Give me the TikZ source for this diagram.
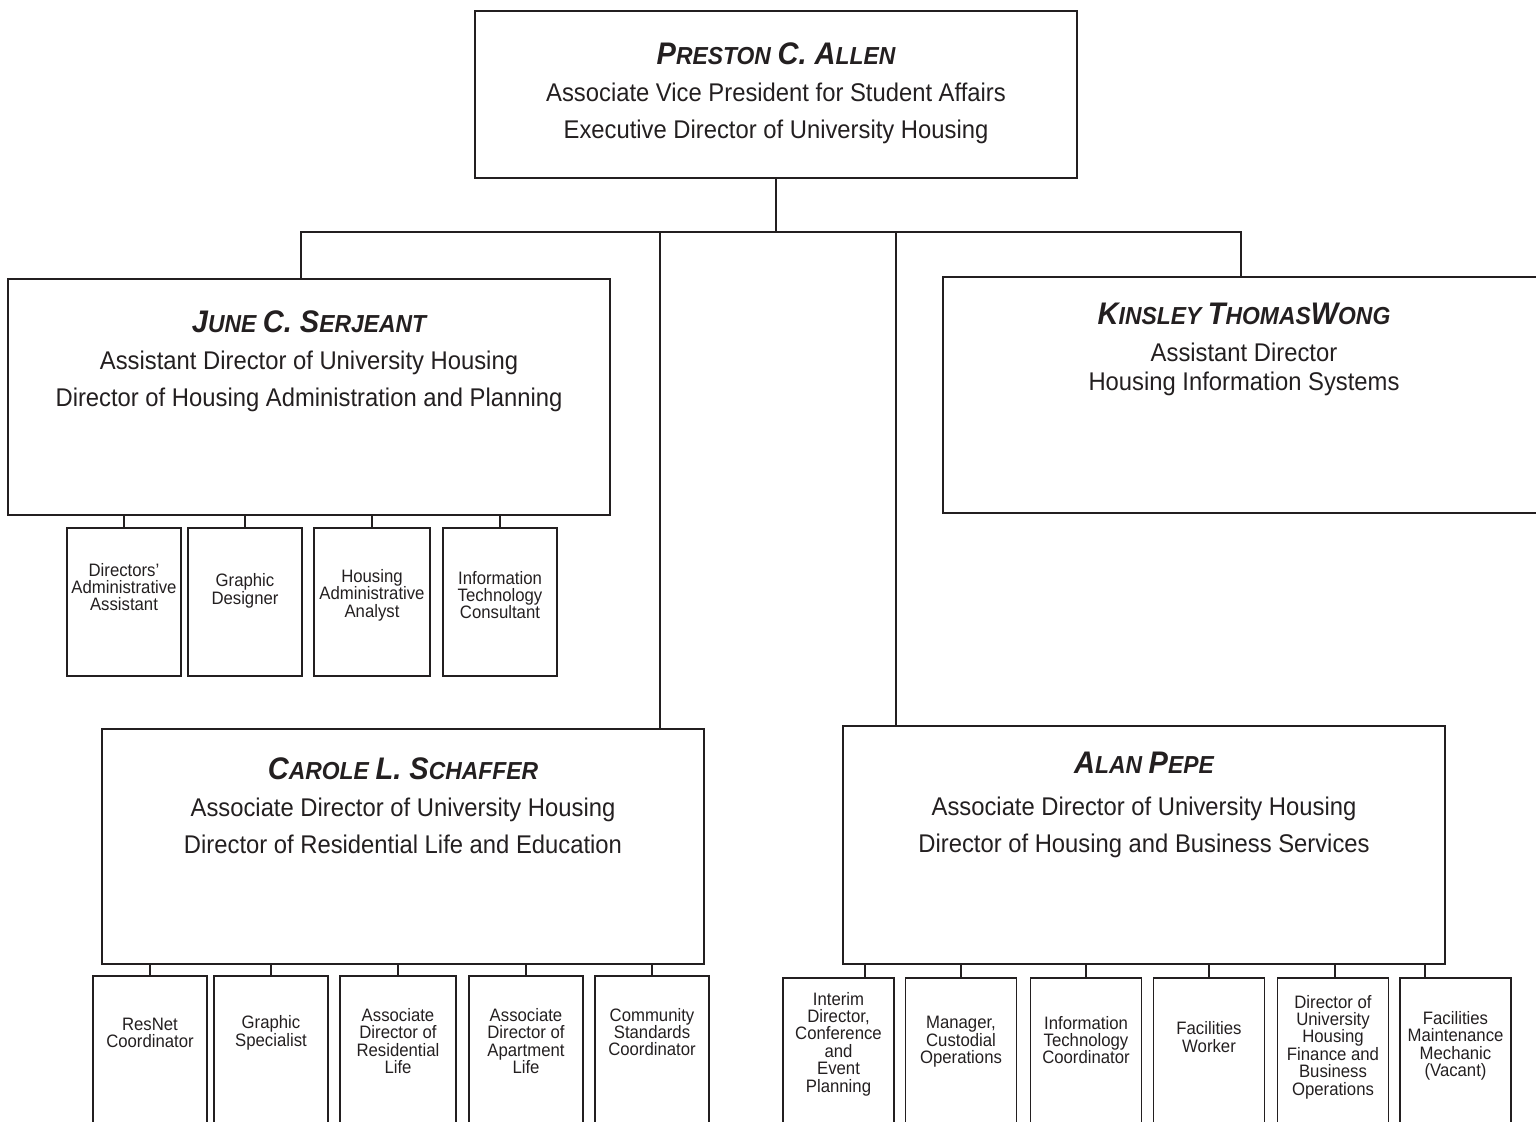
\documentclass[tikz,border=0pt]{standalone}
\usepackage{fontspec}
\setmainfont{Liberation Sans}[FakeStretch=0.93]
\usetikzlibrary{positioning}
\definecolor{ink}{HTML}{231F20}
% fake small caps for the names
\newcommand\nmbig[1]{{\fontsize{15.6}{18.5}\selectfont #1}}
\newcommand\nmsmall[1]{{\fontsize{12.3}{18.5}\selectfont #1}}
\newcommand\staffname[1]{{\bfseries\itshape #1}}

\begin{document}
\begin{tikzpicture}[x=0.5pt,y=-0.5pt,color=ink,
    bigbox/.style={draw,line width=0.6pt,minimum width=301pt,inner sep=0pt},
    bigtext/.style={align=center,inner sep=0pt,font=\fontsize{12.8}{18.5}\selectfont},
    smallbox/.style={draw,line width=0.6pt,minimum width=57pt,inner sep=0pt},
    smalltext/.style={align=center,inner sep=0pt,font=\fontsize{9}{8.7}\selectfont},
    bus/.style={line width=1.3pt},
    stub/.style={line width=1pt}]
  \useasboundingbox (0,0) rectangle (1536,1121);
  \clip (0,0) rectangle (1536,1121);

  % top
  \node[bigbox,minimum height=83.5pt] (allen) at (776,94.5) {};
  \node[bigtext,below=15.8pt of allen.north] (allen-t)
    {\staffname{\nmbig{P}\nmsmall{RESTON} \nmbig{C. A}\nmsmall{LLEN}}\\
     Associate Vice President for Student Affairs\\
     Executive Director of University Housing};

  % second level
  \node[bigbox,minimum height=118pt] (serjeant) at (309,397) {};
  \node[bigtext,below=15.8pt of serjeant.north] (serjeant-t)
    {\staffname{\nmbig{J}\nmsmall{UNE} \nmbig{C. S}\nmsmall{ERJEANT}}\\
     Assistant Director of University Housing\\
     Director of Housing Administration and Planning};

  \node[bigbox,minimum height=118pt] (wong) at (1244,395) {};
  \node[bigtext,below=13.3pt of wong.north] (wong-t)
    {\staffname{\nmbig{K}\nmsmall{INSLEY} \nmbig{T}\nmsmall{HOMAS}\nmbig{W}\nmsmall{ONG}}\\
     Assistant Director\\[-4pt]
     Housing Information Systems};

  \node[bigbox,minimum height=117.5pt] (schaffer) at (403,846.5) {};
  \node[bigtext,below=14.3pt of schaffer.north] (schaffer-t)
    {\staffname{\nmbig{C}\nmsmall{AROLE} \nmbig{L. S}\nmsmall{CHAFFER}}\\
     Associate Director of University Housing\\
     Director of Residential Life and Education};

  \node[bigbox,minimum height=119pt] (pepe) at (1144,845) {};
  \node[bigtext,below=13.3pt of pepe.north] (pepe-t)
    {\staffname{\nmbig{A}\nmsmall{LAN} \nmbig{P}\nmsmall{EPE}}\\[2.5pt]
     Associate Director of University Housing\\
     Director of Housing and Business Services};

  % bus lines
  \coordinate (bus-l) at (301,232);
  \coordinate (bus-c) at (660,232);
  \coordinate (bus-p) at (896,232);
  \coordinate (bus-r) at (1241,232);
  \draw[bus] (allen.south) -- (allen.south |- bus-l);
  \draw[bus] (bus-l |- serjeant.north) -- (bus-l) -- (bus-r) -- (bus-r |- wong.north);
  \draw[bus] (bus-c) -- (bus-c |- schaffer.north);
  \draw[bus] (bus-p) -- (bus-p |- pepe.north);

  % staff under Serjeant
  \node[smallbox,minimum height=74pt] (sa1) at (124,602) {};
  \node[smallbox,minimum height=74pt] (sa2) at (245,602) {};
  \node[smallbox,minimum height=74pt,minimum width=58pt] (sa3) at (372,602) {};
  \node[smallbox,minimum height=74pt] (sa4) at (500,602) {};
  \node[smalltext] (sa1-t) at (124,587) {Directors'\\Administrative\\Assistant};
  \node[smalltext] (sa2-t) at (245,591) {Graphic\\Designer};
  \node[smalltext] (sa3-t) at (372,595) {Housing\\Administrative\\Analyst};
  \node[smalltext] (sa4-t) at (500,595) {Information\\Technology\\Consultant};
  \draw[stub] (sa1.north) -- (sa1.north |- serjeant.south);
  \draw[stub] (sa2.north) -- (sa2.north |- serjeant.south);
  \draw[stub] (sa3.north) -- (sa3.north |- serjeant.south);
  \draw[stub] (sa4.north) -- (sa4.north |- serjeant.south);

  % staff under Schaffer
  \node[smallbox,minimum height=112pt] (sc1) at (150,1088) {};
  \node[smallbox,minimum height=112pt] (sc2) at (271,1088) {};
  \node[smallbox,minimum height=112pt,minimum width=58pt] (sc3) at (398,1088) {};
  \node[smallbox,minimum height=112pt] (sc4) at (526,1088) {};
  \node[smallbox,minimum height=112pt] (sc5) at (652,1088) {};
  \node[smalltext] (sc1-t) at (150,1033) {ResNet\\Coordinator};
  \node[smalltext] (sc2-t) at (271,1033) {Graphic\\Specialist};
  \node[smalltext] (sc3-t) at (398,1041) {Associate\\Director of\\Residential\\Life};
  \node[smalltext] (sc4-t) at (526,1041) {Associate\\Director of\\Apartment\\Life};
  \node[smalltext] (sc5-t) at (652,1032) {Community\\Standards\\Coordinator};
  \draw[stub] (sc1.north) -- (sc1.north |- schaffer.south);
  \draw[stub] (sc2.north) -- (sc2.north |- schaffer.south);
  \draw[stub] (sc3.north) -- (sc3.north |- schaffer.south);
  \draw[stub] (sc4.north) -- (sc4.north |- schaffer.south);
  \draw[stub] (sc5.north) -- (sc5.north |- schaffer.south);

  % staff under Pepe
  \node[smallbox,minimum height=111pt,minimum width=55.5pt] (sp1) at (838.5,1089) {};
  \node[smallbox,minimum height=111pt,minimum width=55.5pt] (sp2) at (961,1089) {};
  \node[smallbox,minimum height=111pt,minimum width=55.5pt] (sp3) at (1086,1089) {};
  \node[smallbox,minimum height=111pt,minimum width=55.5pt] (sp4) at (1209,1089) {};
  \node[smallbox,minimum height=111pt,minimum width=55.5pt] (sp5) at (1333,1089) {};
  \node[smallbox,minimum height=111pt,minimum width=55.5pt] (sp6) at (1455.5,1089) {};
  \node[smalltext] (sp1-t) at (838.5,1044) {Interim\\Director,\\Conference\\and\\Event\\Planning};
  \node[smalltext] (sp2-t) at (961,1042) {Manager,\\Custodial\\Operations};
  \node[smalltext] (sp3-t) at (1086,1040) {Information\\Technology\\Coordinator};
  \node[smalltext] (sp4-t) at (1209,1037) {Facilities\\Worker};
  \node[smalltext] (sp5-t) at (1333,1047) {Director of\\University\\Housing\\Finance and\\Business\\Operations};
  \node[smalltext] (sp6-t) at (1455.5,1046) {Facilities\\Maintenance\\Mechanic\\(Vacant)};
  \draw[stub] ([xshift=13.25pt]sp1.north) -- ([xshift=13.25pt]sp1.north |- pepe.south);
  \draw[stub] (sp2.north) -- (sp2.north |- pepe.south);
  \draw[stub] (sp3.north) -- (sp3.north |- pepe.south);
  \draw[stub] (sp4.north) -- (sp4.north |- pepe.south);
  \draw[stub] ([xshift=1pt]sp5.north) -- ([xshift=1pt]sp5.north |- pepe.south);
  \draw[stub] ([xshift=-15.25pt]sp6.north) -- ([xshift=-15.25pt]sp6.north |- pepe.south);
\end{tikzpicture}
\end{document}
